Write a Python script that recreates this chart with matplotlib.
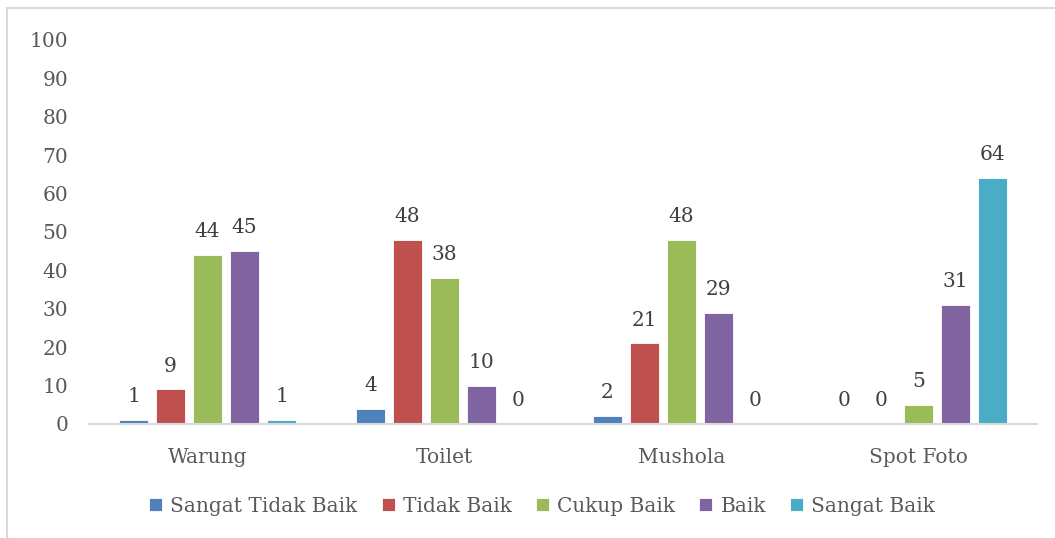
import matplotlib
matplotlib.use("Agg")
from matplotlib import pyplot as plt
from matplotlib.patches import Rectangle
import numpy as np

#==============DATA==============
categories = ["Warung", "Toilet", "Mushola", "Spot Foto"]
series_names = ["Sangat Tidak Baik", "Tidak Baik", "Cukup Baik", "Baik", "Sangat Baik"]
sangat_tidak_baik = [1, 4, 2, 0]
tidak_baik = [9, 48, 21, 0]
cukup_baik = [44, 38, 48, 5]
baik = [45, 10, 29, 31]
sangat_baik = [1, 0, 0, 64]
yticks = list(range(0, 101, 10))

values = [sangat_tidak_baik, tidak_baik, cukup_baik, baik, sangat_baik]
colors = ["#4F81BD", "#C0504D", "#9BBB59", "#8064A2", "#4BACC6"]

plt.rcParams['font.family'] = ['DejaVu Serif']
txt = "#595959"
fs = 14.5

fig = plt.figure(figsize=(10.55, 5.38), dpi=100)
ax = fig.add_axes([0.0844, 0.2119, 0.8986, 0.7138])

x = np.arange(len(categories))
pitch = 37 / 237
width = 29 / 237
for i, (name, vals, col) in enumerate(zip(series_names, values, colors)):
    pos = x + (i - 2) * pitch
    ax.bar(pos, vals, width, color=col, label=name, edgecolor="white", linewidth=0.6)
    for p, v in zip(pos, vals):
        ax.text(p, v + 3.6, str(v), ha="center", va="bottom", fontsize=fs, color="#404040")

ax.set_xlim(-0.5, len(categories) - 0.5)
ax.set_ylim(0, 100)
ax.set_yticks(yticks)
ax.set_xticks(x)
ax.set_xticklabels(categories)
ax.tick_params(axis="both", length=0, labelsize=fs, colors=txt)
ax.tick_params(axis="x", pad=17)
ax.tick_params(axis="y", pad=15)
for s in ["top", "right", "left"]:
    ax.spines[s].set_visible(False)
ax.spines["bottom"].set_color("#D9D9D9")
ax.spines["bottom"].set_linewidth(1.5)

leg = fig.legend(loc="center", bbox_to_anchor=(0.514, 1 - 506 / 538), ncol=5, frameon=False,
                 fontsize=fs, handlelength=0.65, handleheight=0.65, handletextpad=0.4,
                 columnspacing=1.2)
for t in leg.get_texts():
    t.set_color(txt)

# chart area border
fig.add_artist(Rectangle((7 / 1055, -0.05), 1.1, 1 - 8 / 538 + 0.05, transform=fig.transFigure,
                         fill=False, edgecolor="#D9D9D9", linewidth=1.5))

plt.savefig("out.png", dpi=100)
